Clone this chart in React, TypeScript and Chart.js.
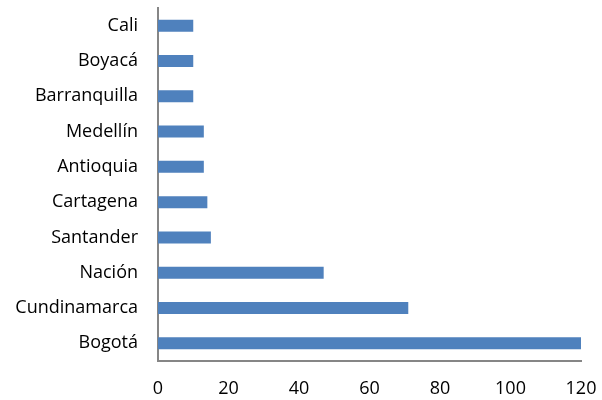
import React, { useEffect, useRef } from "react";
import { Chart, registerables } from "chart.js";

Chart.register(...registerables);

const categories = [
  "Cali",
  "Boyacá",
  "Barranquilla",
  "Medellín",
  "Antioquia",
  "Cartagena",
  "Santander",
  "Nación",
  "Cundinamarca",
  "Bogotá",
];
const values = [10, 10, 10, 13, 13, 14, 15, 47, 71, 120];
const xTicks = [0, 20, 40, 60, 80, 100, 120];

const noPad = (s: any) => {
  s.paddingTop = 0;
  s.paddingBottom = 0;
  s.paddingLeft = 0;
  s.paddingRight = 0;
};

export default function App() {
  const ref = useRef<HTMLCanvasElement | null>(null);
  useEffect(() => {
    document.body.style.margin = "0";
    const ctx = ref.current!;
    const font = { family: "'Open Sans', sans-serif", size: 18 };
    const chart = new Chart(ctx, {
      type: "bar",
      data: {
        labels: categories,
        datasets: [
          {
            data: values,
            backgroundColor: "#4F81BD",
            borderWidth: 0,
            categoryPercentage: 1,
            barPercentage: 0.34,
          },
        ],
      },
      options: {
        indexAxis: "y",
        animation: false,
        responsive: false,
        devicePixelRatio: 1,
        layout: { padding: { top: 8, right: 21, left: 0, bottom: 0 } },
        plugins: { legend: { display: false }, tooltip: { enabled: false } },
        scales: {
          x: {
            min: 0,
            max: 120,
            afterBuildTicks: (s: any) => {
              s.ticks = xTicks.map((v) => ({ value: v }));
            },
            afterFit: (s: any) => {
              s.height = 39;
              noPad(s);
            },
            grid: { display: false, drawTicks: false },
            border: { display: true, color: "#868686", width: 2 },
            ticks: { color: "#000", font, padding: 17, maxRotation: 0 },
          },
          y: {
            afterFit: (s: any) => {
              s.width = 158;
              noPad(s);
            },
            grid: { display: false, drawTicks: false },
            border: { display: true, color: "#868686", width: 2 },
            ticks: { color: "#000", font, padding: 20 },
          },
        },
      },
    });
    return () => chart.destroy();
  }, []);
  return (
    <div style={{ width: 602, height: 400 }}>
      <canvas ref={ref} width={602} height={400} />
    </div>
  );
}
